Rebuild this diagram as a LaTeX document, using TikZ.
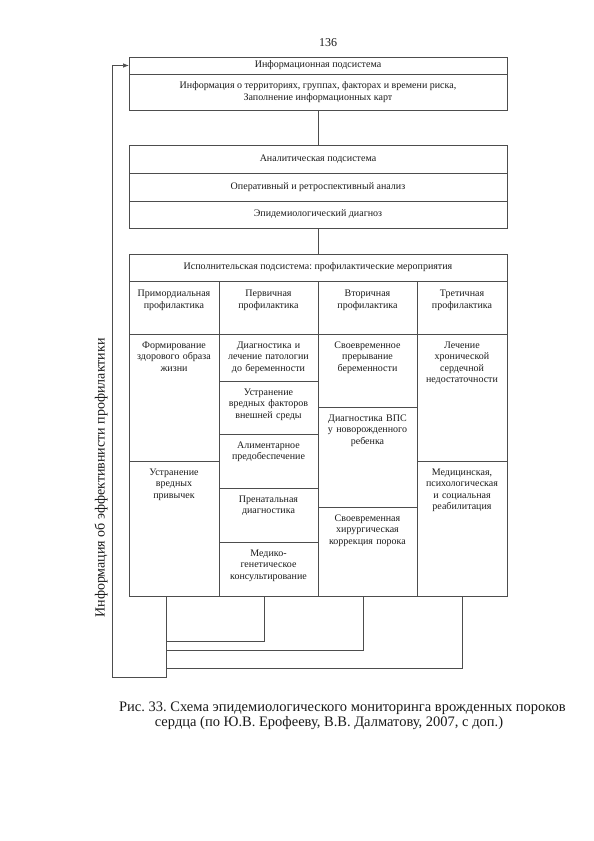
\documentclass[tikz,border=0pt]{standalone}
\usepackage{fontspec}
\setmainfont{Liberation Serif}
\usepackage{xcolor}
\definecolor{scheme-line}{HTML}{4D4D4D}
\definecolor{scheme-text}{HTML}{1A1A1A}
\usetikzlibrary{arrows.meta}
\frenchspacing

\tikzset{
  link/.style={draw=scheme-line, line width=0.7pt},
  row/.style={draw=scheme-line, line width=0.7pt, anchor=north west, minimum width=378pt,
    inner sep=0pt, outer sep=0pt, align=center},
  cell/.style 2 args={draw=scheme-line, line width=0.7pt, anchor=north west, inner xsep=3pt,
    inner ysep=0pt, outer sep=0pt, align=center, text width=#1, text height=14pt, text depth=#2}
}

\begin{document}
\begin{tikzpicture}[x=1pt, y=-1pt, font=\fontsize{10}{11.5}\selectfont, text=scheme-text]

    % Page
    \useasboundingbox (0,0) rectangle (594,841);
    \node[font=\fontsize{12}{14}\selectfont] (pagenum) at (328,43) {136};

    % Information subsystem
    \node[row, minimum height=17pt] (infohead) at (129,57) {Информационная подсистема};
    \node[row, minimum height=36pt] (infobody) at (129,74) {Информация о территориях, группах, факторах и времени риска,\\Заполнение информационных карт};

    % Analytic subsystem
    \node[row, minimum height=28pt] (analhead) at (129,145) {Аналитическая подсистема};
    \node[row, minimum height=28pt] (analoper) at (129,173) {Оперативный и ретроспективный анализ};
    \node[row, minimum height=27pt] (analdiag) at (129,201) {Эпидемиологический диагноз};

    % Executive subsystem
    \node[row, minimum height=27pt] (exechead) at (129,254) {Исполнительская подсистема: профилактические мероприятия};

    % Levels of prevention
    \node[cell={84pt}{37.5pt}, text height=15.5pt] (primord) at (129,281) {Примордиальная\\профилактика};
    \node[cell={93pt}{37.5pt}, text height=15.5pt] (primary) at (219,281) {Первичная\\профилактика};
    \node[cell={93pt}{37.5pt}, text height=15.5pt] (secondary) at (318,281) {Вторичная\\профилактика};
    \node[cell={84pt}{37.5pt}, text height=15.5pt] (tertiary) at (417,281) {Третичная\\профилактика};

    % Primordial
    \node[cell={84pt}{113pt}] (lifestyle) at (129,334) {Формирование\\здорового образа\\жизни};
    \node[cell={84pt}{121pt}] (habits) at (129,461) {Устранение\\вредных\\привычек};

    % Primary
    \node[cell={93pt}{33pt}] (pathology) at (219,334) {Диагностика и\\лечение патологии\\до беременности};
    \node[cell={93pt}{39pt}] (environment) at (219,381) {Устранение\\вредных факторов\\внешней среды};
    \node[cell={93pt}{40pt}] (nutrition) at (219,434) {Алиментарное\\предобеспечение};
    \node[cell={93pt}{40pt}] (prenatal) at (219,488) {Пренатальная\\диагностика};
    \node[cell={93pt}{40pt}] (genetics) at (219,542) {Медико-\\генетическое\\консультирование};

    % Secondary
    \node[cell={93pt}{59pt}] (abortion) at (318,334) {Своевременное\\прерывание\\беременности};
    \node[cell={93pt}{86pt}] (newborn) at (318,407) {Диагностика ВПС\\у новорожденного\\ребенка};
    \node[cell={93pt}{75pt}] (surgery) at (318,507) {Своевременная\\хирургическая\\коррекция порока};

    % Tertiary
    \node[cell={84pt}{113pt}] (failure) at (417,334) {Лечение\\хронической\\сердечной\\недостаточности};
    \node[cell={84pt}{121pt}] (rehab) at (417,461) {Медицинская,\\психологическая\\и социальная\\реабилитация};

    % Links between subsystems
    \draw[link] (infobody.south) -- (analhead.north);
    \draw[link] (analdiag.south) -- (exechead.north);

    % Feedback
    \coordinate (loopcorner) at (112,677);
    \coordinate (bus2) at (166,641);
    \coordinate (bus3) at (166,650);
    \coordinate (bus4) at (166,668);
    \draw[link, -{Latex[length=6pt,width=4.5pt]}] ([xshift=-8pt]habits.south) |- (loopcorner) |- (infohead.west);
    \draw[link] ([xshift=-4.5pt]genetics.south) |- (bus2);
    \draw[link] ([xshift=-4.5pt]surgery.south) |- (bus3);
    \draw[link] (rehab.south) |- (bus4);
    \node[rotate=90, font=\fontsize{14}{16}\selectfont] (feedbacklabel) at (101,478) {Информация об эффективнисти профилактики};

    % Caption
    \node[font=\fontsize{14.5}{16}\selectfont] (captionA) at (342.5,708) {Рис. 33. Схема эпидемиологического мониторинга врожденных пороков};
    \node[font=\fontsize{14.5}{16}\selectfont] (captionB) at (329,723) {сердца (по Ю.В. Ерофееву, В.В. Далматову, 2007, с доп.)};

\end{tikzpicture}
\end{document}
